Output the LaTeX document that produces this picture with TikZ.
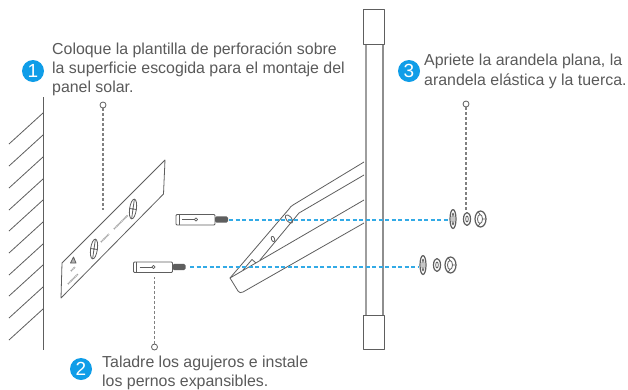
\documentclass[tikz,border=0pt]{standalone}
\usepackage{fontspec}
\setmainfont{Liberation Sans}
\definecolor{txt}{HTML}{5A5A5A}
\definecolor{ln}{HTML}{5E5E5E}
\definecolor{badge}{HTML}{0F9DE8}
\definecolor{dashblue}{RGB}{50,170,230}
\definecolor{dots}{HTML}{808080}
\tikzset{
 lab/.style={anchor=base west,inner sep=0pt,text=txt,font=\fontsize{15.9}{19}\selectfont,align=left},
 bdg/.style={circle,fill=badge,text=white,inner sep=0pt,minimum size=22pt,font=\fontsize{19}{19}\selectfont},
 thinl/.style={draw=ln,line width=0.8pt,line join=round},
 guideline/.style={draw=dashblue,line width=1.1pt,dash pattern=on 4pt off 2.5pt},
 leader/.style={draw=dots,line width=1.1pt,dash pattern=on 2.5pt off 2.5pt},
 ring/.style={circle,draw=ln,line width=0.8pt,fill=white,inner sep=0pt,minimum size=6pt},
 smudge/.style={draw=gray!70,line width=1.6pt,dash pattern=on 1.2pt off 0.6pt},
}
\begin{document}
\begin{tikzpicture}[x=1pt,y=-1pt]
\useasboundingbox (0,0) rectangle (628,389);
\fill[white] (0,0) rectangle (628,389);
% wall
\draw[thinl,line width=1.1pt] (43.5,97) -- (43.5,350);
\foreach \y in {113,135,157,179,200,222,244,265,287,309}
  \draw[thinl] (43,\y) -- (9,\y+31);
% plate
\draw[thinl] (62,263) -- (165,160) -- (163.5,194) -- (61,298) -- cycle;
\foreach \cx/\cy in {94/249,133/209}{
  \draw[thinl,fill=white,rotate around={-8:(\cx,\cy)}] (\cx,\cy) ellipse (3.4 and 10);
  \draw[thinl,rotate around={-8:(\cx,\cy)}] (\cx,\cy-10) -- (\cx,\cy+10) (\cx-3.4,\cy) -- (\cx+3.4,\cy);
}
% illegibly small print on the plate, drawn as grey marks
\draw[smudge] (101,242) -- (109,234);
\draw[smudge] (114,229) -- (128,215);
\draw[smudge] (71,271) -- (75,267);
\draw[smudge] (68,284) -- (78,274);
\draw[thinl,fill=gray!60] (70.5,263) -- (73.5,257) -- (76,263) -- cycle;
% column
\fill[ln!60] (364.5,44) rectangle (367,315);
\fill[ln!70] (382.3,44) rectangle (383.5,315);
\draw[thinl,line width=1pt] (363.5,9.5) rectangle (384.5,44);
\draw[thinl,line width=1pt] (363.5,315) rectangle (384.5,349);
% bracket
\draw[thinl] (364,162) -- (293,205) .. controls (291,206.5) and (290,207) .. (289,209) -- (230,278)
 -- (238,291) .. controls (239,293) and (241,293) .. (243,292) -- (364,223);
\draw[thinl] (230,278) -- (364,200);
\draw[thinl] (364,175) -- (299,213) -- (260,260);
\draw[thinl] (243,270) -- (252,259.5) -- (256,263);
\draw[thinl,rotate around={40:(289,219)}] (289,219) ellipse (2.6 and 5);
\draw[thinl,rotate around={20:(273,239)}] (273,239) ellipse (1.6 and 2.8);
% bolts
\foreach \bx/\by in {176/219.5,133.5/267}{
  \draw[thinl,rounded corners=1pt] (\bx,\by-5) rectangle (\bx+39,\by+5.5);
  \draw[thinl] (\bx+3,\by-5) -- (\bx+3,\by+5.5);
  \draw[thinl] (\bx+6,\by) -- (\bx+19,\by);
  \draw[thinl,fill=white] (\bx+20,\by) circle (1.6);
  \fill[ln,rounded corners=1.5pt] (\bx+39,\by-3.2) rectangle (\bx+52,\by+3.2);
}
% washers
\foreach \wx/\wy in {453/219,423/265}{
  \draw[thinl,line width=1.2pt] (\wx,\wy) ellipse (3 and 9.5);
  \draw[thinl] (\wx,\wy) ellipse (1 and 6);
  \draw[thinl,line width=1.2pt] (\wx+14,\wy) ellipse (3.5 and 6.5);
  \draw[thinl] (\wx+14,\wy) ellipse (1.3 and 3);
  \draw[thinl,line width=1.2pt] (\wx+27.5,\wy) ellipse (5.5 and 8);
  \draw[thinl] (\wx+27,\wy) ellipse (2.5 and 4.5);
  \draw[thinl] (\wx+25,\wy-7.5) -- (\wx+27,\wy-4.5) (\wx+25,\wy+7.5) -- (\wx+27,\wy+4.5) (\wx+33,\wy) -- (\wx+29.5,\wy);
}
% guides
\coordinate (g1a) at (229,220); \coordinate (g1b) at (448,220);
\coordinate (g2a) at (190,267); \coordinate (g2b) at (418,267);
\draw[guideline] (g1a) -- (g1b);
\draw[guideline] (g2a) -- (g2b);
% leaders
\node[ring] (r1) at (103,105) {};
\coordinate (e1) at (103,210);
\draw[leader] (r1) -- (e1);
\node[ring] (r2) at (154.5,347) {};
\coordinate (e2) at (154.5,277);
\draw[leader] (r2) -- (e2);
\node[ring] (r3) at (466,104) {};
\coordinate (e3) at (466,212);
\draw[leader] (r3) -- (e3);
% labels
\node[bdg] (b1) at (33,71) {1};
\node[bdg] (b2) at (81,369) {2};
\node[bdg] (b3) at (409,71) {3};
\node[lab] (t1a) at (52,54) {Coloque la plantilla de perforación sobre};
\node[lab] (t1b) at (52,73) {la superficie escogida para el montaje del};
\node[lab] (t1c) at (52,92) {panel solar.};
\node[lab] (t2a) at (102,367) {Taladre los agujeros e instale};
\node[lab] (t2b) at (102,386) {los pernos expansibles.};
\node[lab] (t3a) at (424,65) {Apriete la arandela plana, la};
\node[lab] (t3b) at (424,85) {arandela elástica y la tuerca.};
\end{tikzpicture}
\end{document}
